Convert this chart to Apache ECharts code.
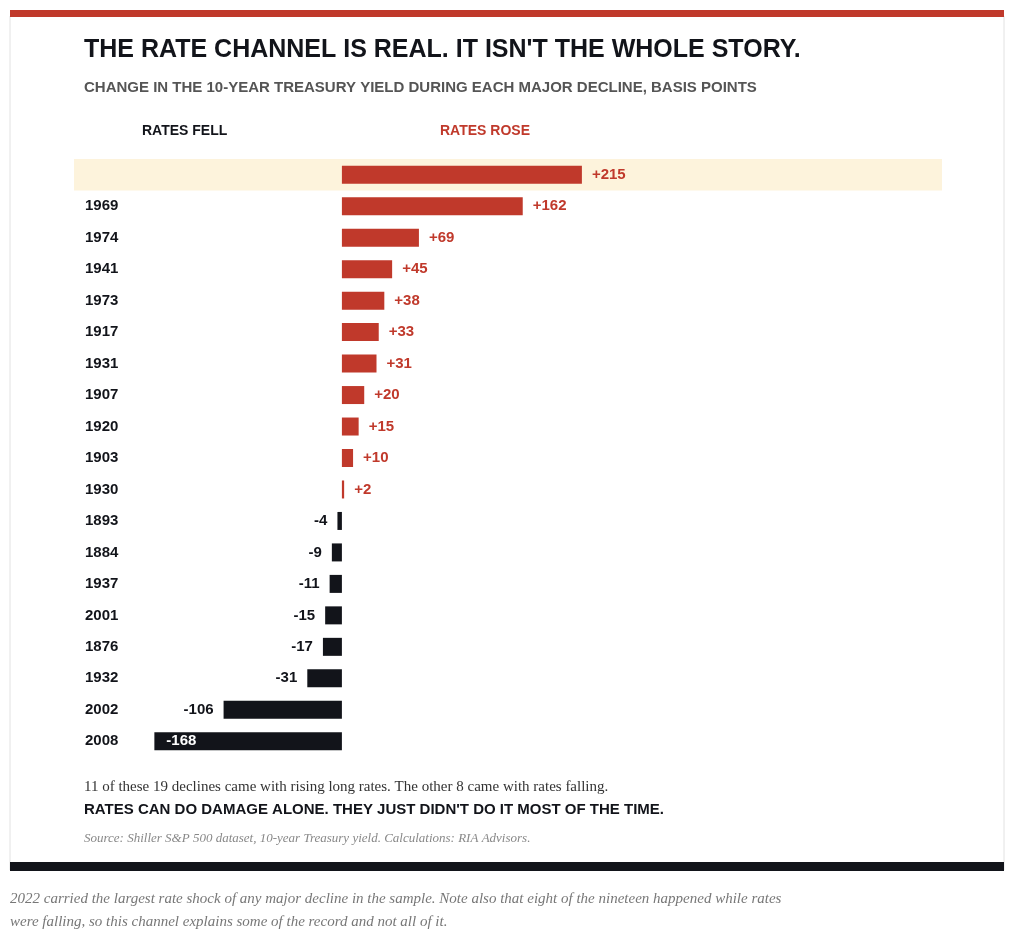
<!DOCTYPE html>
<html><head><meta charset="utf-8">
<script src="https://cdn.jsdelivr.net/npm/echarts@6/dist/echarts.min.js"></script>
<style>html,body{margin:0;padding:0;background:#fff}#c{width:1024px;height:946px}</style>
</head><body><div id="c"></div>
<script>
const years = ['2022','1969','1974','1941','1973','1917','1931','1907','1920','1903','1930','1893','1884','1937','2001','1876','1932','2002','2008'];
const changes = [215,162,69,45,38,33,31,20,15,10,2,-4,-9,-11,-15,-17,-31,-106,-168];
const RED='#c0392b', BLK='#12141a';
const chart = echarts.init(document.getElementById('c'));
const data = changes.map((v,i)=>{
  const d={value:v,itemStyle:{color:v>0?RED:BLK}};
  if(v>0) d.label={show:true,position:'right',distance:10,color:RED,formatter:'+'+v};
  else if(v===-168) d.label={show:true,position:'insideLeft',distance:12,color:'#fff',formatter:''+v};
  else d.label={show:true,position:'left',distance:10,color:BLK,formatter:''+v};
  return d;
});
const F='Liberation Sans, Arial, sans-serif';
chart.setOption({
  animation:false,
  grid:{left:74,width:868,top:159,height:598},
  xAxis:{type:'value',min:-240,max:537.6,show:false,splitLine:{show:false}},
  yAxis:{type:'category',data:years,inverse:true,axisLine:{show:false},axisTick:{show:false},
    axisLabel:{align:'left',margin:-11,fontFamily:F,fontWeight:'bold',fontSize:15,color:BLK,
      formatter:(v)=>v==='2022'?'{b|'+v+'}':v,rich:{b:{fontFamily:F,fontWeight:'bold',fontSize:17,color:BLK}}}},
  series:[{type:'bar',data:data,barWidth:18,
    label:{fontFamily:F,fontWeight:'bold',fontSize:15},
    markArea:{silent:true,itemStyle:{color:'#fdf3dc'},data:[[{yAxis:'2022',xAxis:-240},{yAxis:'2022',xAxis:537.6}]]},
    markLine:{silent:true,symbol:'none',label:{show:false},lineStyle:{color:BLK,width:2,type:'solid'},
      data:[[{coord:[0,-0.25]},{coord:[0,18.8]}]]}
  }],
  graphic:[
    {type:'rect',shape:{x:10,y:16,width:994,height:854},style:{fill:'none',stroke:'#e2e2e2',lineWidth:1}},
    {type:'rect',shape:{x:10,y:10,width:994,height:7},style:{fill:RED}},
    {type:'rect',shape:{x:10,y:862,width:994,height:9},style:{fill:BLK}},
    {type:'text',left:84,top:38,style:{text:"THE RATE CHANNEL IS REAL. IT ISN'T THE WHOLE STORY.",font:'bold 25px '+F,fill:BLK}},
    {type:'text',left:84,top:80,style:{text:'CHANGE IN THE 10-YEAR TREASURY YIELD DURING EACH MAJOR DECLINE, BASIS POINTS',font:'bold 15px '+F,fill:'#555'}},
    {type:'text',left:142,top:124,style:{text:'RATES FELL',font:'bold 14px '+F,fill:BLK}},
    {type:'text',left:440,top:124,style:{text:'RATES ROSE',font:'bold 14px '+F,fill:RED}},
    {type:'text',left:854,top:167,style:{text:'LARGEST',font:'bold 15px '+F,fill:'#d4a514'}},
    {type:'text',left:84,top:780,style:{text:'11 of these 19 declines came with rising long rates. The other 8 came with rates falling.',font:'15px Liberation Serif, serif',fill:'#333'}},
    {type:'text',left:84,top:802,style:{text:"RATES CAN DO DAMAGE ALONE. THEY JUST DIDN'T DO IT MOST OF THE TIME.",font:'bold 15px '+F,fill:BLK}},
    {type:'text',left:84,top:832,style:{text:'Source: Shiller S&P 500 dataset, 10-year Treasury yield. Calculations: RIA Advisors.',font:'italic 13px Liberation Serif, serif',fill:'#888'}},
    {type:'text',left:10,top:888,style:{text:'2022 carried the largest rate shock of any major decline in the sample. Note also that eight of the nineteen happened while rates\nwere falling, so this channel explains some of the record and not all of it.',font:'italic 15px Liberation Serif, serif',fill:'#777',lineHeight:23}}
  ]
});
</script></body></html>
